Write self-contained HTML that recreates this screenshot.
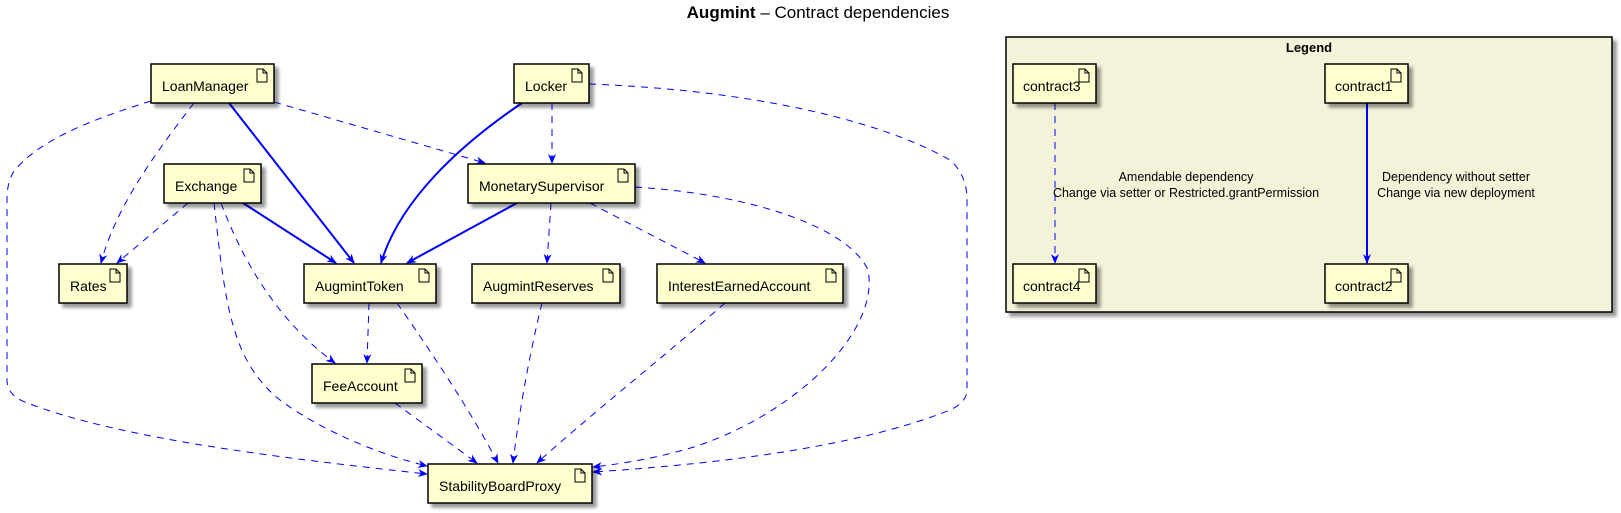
<!DOCTYPE html>
<html><head><meta charset="utf-8"><style>
html,body{margin:0;padding:0;background:#fff;}
svg{display:block;font-family:"Liberation Sans",sans-serif;}
.n{fill:#FEFECE;stroke:#000;stroke-width:1.5;filter:url(#sh);}
.t{font-size:14px;fill:#000;}
.ic{fill:none;stroke:#000;stroke-width:1;}
.d{fill:none;stroke:#0000FF;stroke-width:1;stroke-dasharray:7,6;}
.s{fill:none;stroke:#0000FF;stroke-width:2;}
</style></head><body>
<svg width="1621" height="513" viewBox="0 0 1621 513" xmlns="http://www.w3.org/2000/svg">
<defs>
<filter id="sh" x="-10%" y="-10%" width="130%" height="140%">
<feGaussianBlur in="SourceAlpha" stdDeviation="1.5"/><feOffset dx="4" dy="4" result="b"/>
<feComponentTransfer><feFuncA type="linear" slope="0.4"/></feComponentTransfer>
<feMerge><feMergeNode/><feMergeNode in="SourceGraphic"/></feMerge>
</filter>
<marker id="a" markerWidth="10" markerHeight="10" refX="9" refY="5" orient="auto" markerUnits="userSpaceOnUse">
<path d="M0,1 L10,5 L0,9 L3,5 z" fill="#0000FF"/></marker>
</defs>

<text x="818" y="18" text-anchor="middle" font-size="17"><tspan font-weight="bold">Augmint</tspan> – Contract dependencies</text>

<!-- legend -->
<rect x="1006" y="37" width="606" height="275" fill="#F3F3DA" stroke="#000" stroke-width="1.5" filter="url(#sh)"/>
<text x="1309" y="52" text-anchor="middle" font-size="13" font-weight="bold">Legend</text>
<path class="d" d="M1055,103 L1055,263" marker-end="url(#a)"/>
<path class="s" d="M1367,103 L1367,263" marker-end="url(#a)"/>
<text x="1186" y="181" text-anchor="middle" font-size="12.5">Amendable dependency</text>
<text x="1186" y="197" text-anchor="middle" font-size="12.5">Change via setter or Restricted.grantPermission</text>
<text x="1456" y="181" text-anchor="middle" font-size="12.5">Dependency without setter</text>
<text x="1456" y="197" text-anchor="middle" font-size="12.5">Change via new deployment</text>

<!-- edges -->
<path class="s" d="M229,103 L354,263" marker-end="url(#a)"/>
<path class="s" d="M522,103 C460,145 400,200 381,263" marker-end="url(#a)"/>
<path class="s" d="M243,203 L336,263" marker-end="url(#a)"/>
<path class="s" d="M517,203 L407,263" marker-end="url(#a)"/>

<path class="d" d="M151,101 C90,120 40,140 15,170 Q7,180 7,200 L7,380 Q7,395 25,402 C120,440 300,460 427,474" marker-end="url(#a)"/>
<path class="d" d="M194,103 C150,160 115,210 101,263" marker-end="url(#a)"/>
<path class="d" d="M274,102 L485,163" marker-end="url(#a)"/>
<path class="d" d="M188,203 L117,263" marker-end="url(#a)"/>
<path class="d" d="M214,203 C225,300 230,360 280,400 C320,430 380,455 427,466" marker-end="url(#a)"/>
<path class="d" d="M221,203 C250,280 290,330 335,363" marker-end="url(#a)"/>
<path class="d" d="M369,303 L367,363" marker-end="url(#a)"/>
<path class="d" d="M397,303 C430,350 470,410 498,463" marker-end="url(#a)"/>
<path class="d" d="M395,403 L477,463" marker-end="url(#a)"/>
<path class="d" d="M542,303 C528,360 518,420 513,463" marker-end="url(#a)"/>
<path class="d" d="M725,303 C660,360 590,415 537,463" marker-end="url(#a)"/>
<path class="d" d="M589,84 C750,90 880,120 950,160 Q967,175 967,200 L967,390 Q967,402 950,410 C850,450 700,465 593,472" marker-end="url(#a)"/>
<path class="d" d="M635,187 C760,195 850,230 868,270 C880,330 800,410 700,445 C660,458 620,464 593,467" marker-end="url(#a)"/>
<path class="d" d="M552,103 L552,163" marker-end="url(#a)"/>
<path class="d" d="M551,203 L547,263" marker-end="url(#a)"/>
<path class="d" d="M590,203 L705,263" marker-end="url(#a)"/>

<!-- nodes -->
<g>
<rect class="n" x="151" y="64" width="123" height="39"/><text class="t" x="162" y="91">LoanManager</text>
<rect class="n" x="514" y="64" width="75" height="39"/><text class="t" x="525" y="91">Locker</text>
<rect class="n" x="164" y="164" width="97" height="39"/><text class="t" x="175" y="191">Exchange</text>
<rect class="n" x="468" y="164" width="167" height="39"/><text class="t" x="479" y="191">MonetarySupervisor</text>
<rect class="n" x="59" y="264" width="68" height="39"/><text class="t" x="70" y="291">Rates</text>
<rect class="n" x="304" y="264" width="132" height="39"/><text class="t" x="315" y="291">AugmintToken</text>
<rect class="n" x="472" y="264" width="148" height="39"/><text class="t" x="483" y="291">AugmintReserves</text>
<rect class="n" x="657" y="264" width="186" height="39"/><text class="t" x="668" y="291">InterestEarnedAccount</text>
<rect class="n" x="312" y="364" width="110" height="39"/><text class="t" x="323" y="391">FeeAccount</text>
<rect class="n" x="428" y="464" width="164" height="39"/><text class="t" x="439" y="491">StabilityBoardProxy</text>
<rect class="n" x="1013" y="64" width="83" height="39"/><text class="t" x="1023" y="91">contract3</text>
<rect class="n" x="1013" y="264" width="83" height="39"/><text class="t" x="1023" y="291">contract4</text>
<rect class="n" x="1325" y="64" width="83" height="39"/><text class="t" x="1335" y="91">contract1</text>
<rect class="n" x="1325" y="264" width="83" height="39"/><text class="t" x="1335" y="291">contract2</text>
</g>
<!-- doc icons -->
<g class="ic">
<path d="M257,69 h6 l4,4 v9 h-10 z M263,69 v4 h4"/>
<path d="M572,69 h6 l4,4 v9 h-10 z M578,69 v4 h4"/>
<path d="M244,169 h6 l4,4 v9 h-10 z M250,169 v4 h4"/>
<path d="M618,169 h6 l4,4 v9 h-10 z M624,169 v4 h4"/>
<path d="M110,269 h6 l4,4 v9 h-10 z M116,269 v4 h4"/>
<path d="M419,269 h6 l4,4 v9 h-10 z M425,269 v4 h4"/>
<path d="M603,269 h6 l4,4 v9 h-10 z M609,269 v4 h4"/>
<path d="M826,269 h6 l4,4 v9 h-10 z M832,269 v4 h4"/>
<path d="M405,369 h6 l4,4 v9 h-10 z M411,369 v4 h4"/>
<path d="M575,469 h6 l4,4 v9 h-10 z M581,469 v4 h4"/>
<path d="M1079,69 h6 l4,4 v9 h-10 z M1085,69 v4 h4"/>
<path d="M1079,269 h6 l4,4 v9 h-10 z M1085,269 v4 h4"/>
<path d="M1391,69 h6 l4,4 v9 h-10 z M1397,69 v4 h4"/>
<path d="M1391,269 h6 l4,4 v9 h-10 z M1397,269 v4 h4"/>
</g>
</svg>
</body></html>
